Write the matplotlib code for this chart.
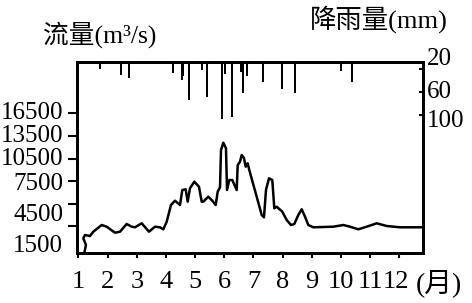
import matplotlib
matplotlib.use('Agg')
import matplotlib.pyplot as plt
from matplotlib.transforms import ScaledTranslation

plt.rcParams['font.family'] = ['Liberation Serif', 'Noto Sans CJK SC']

# 流量, month position / m3/s
flow_month = [1.199, 1.257, 1.165, 1.223, 1.394, 1.508, 1.796, 1.967, 2.252, 2.423,
              2.653, 2.824, 2.938, 3.167, 3.418, 3.623, 3.795, 3.908, 4.025, 4.172,
              4.309, 4.481, 4.560, 4.676, 4.745, 4.824, 4.971, 5.132, 5.225, 5.280,
              5.451, 5.588, 5.705, 5.774, 5.853, 5.887, 5.966, 6.058, 6.093, 6.171,
              6.274, 6.425, 6.460, 6.538, 6.597, 6.676, 6.734, 6.802, 6.857, 7.111,
              7.283, 7.361, 7.430, 7.533, 7.646, 7.715, 7.797, 7.989, 8.140, 8.287,
              8.401, 8.538, 8.654, 8.768, 8.881, 9.052, 9.738, 10.081, 10.311, 10.595,
              10.883, 11.226, 11.569, 12.025, 12.825]
flow_val = [-2100, -1033, -140, 300, 167, 740, 1633, 1407, 607, 740,
            1767, 1407, 1327, 1860, 740, 1407, 1327, 1060, 2073, 4300,
            4873, 4300, 6300, 6393, 4740, 6527, 7407, 6740, 4740, 4740,
            5407, 4873, 4300, 6073, 6660, 11633, 12607, 11860, 6300, 7633,
            7633, 6300, 9633, 10073, 10967, 10527, 9407, 9860, 8967, 5407,
            2967, 2660, 6300, 7860, 7633, 3860, 4073, 3407, 2300, 1633,
            1767, 2967, 3727, 2740, 1633, 1327, 1407, 1633, 1407, 1060,
            1407, 1860, 1500, 1327, 1327]

# 降雨量 bars
rain_month = [1.737, 2.468, 2.722, 4.251, 4.539, 4.594, 4.789, 5.235, 5.396, 5.921,
              6.034, 6.264, 6.562, 6.652, 6.768, 7.317, 7.989, 8.435, 10.002, 10.369]
rain_mm = [20, 30, 36, 27, 39, 33, 74, 22, 68, 107,
           29, 104, 25, 61, 32, 42, 54, 62, 23, 42]

months = list(range(1, 13))
month_labels = [str(m) for m in months]
flow_ticks = [1500, 4500, 7500, 10500, 13500, 16500]
rain_ticks = [20, 60, 100]

fig = plt.figure(figsize=(4.72, 3.03), dpi=100)
ax = fig.add_axes([0.1631, 0.165, 0.7331, 0.6304])
ax2 = ax.twinx()

ax.plot(flow_month, flow_val, color='black', lw=1.8, solid_joinstyle='round')
ax.set_xlim(0.9486, 12.814)
ax.set_ylim(-2100, 23367)
ax.set_xticks(months)
ax.set_xticklabels(month_labels, fontsize=19)
ax.set_yticks(flow_ticks)
ax.set_yticklabels([str(v) for v in flow_ticks], fontsize=18)
ax.tick_params(axis='x', direction='out', length=3.6, width=1.5, pad=9)
ax.tick_params(axis='y', direction='out', length=6.5, width=1.5, pad=3.5)

ax2.bar(rain_month, rain_mm, width=0.075, color='black')
ax2.set_ylim(340, 7.8)
ax2.set_yticks(rain_ticks)
ax2.set_yticklabels([str(v) for v in rain_ticks], fontsize=18)
ax2.tick_params(axis='y', direction='in', length=3, width=1.5, pad=3)

for a in (ax, ax2):
    for s in a.spines.values():
        s.set_linewidth(2)

# the printed labels sit a little off their ticks
left_shift = [-17, -9, 0, 2, 2.5, 3]
for lab, dy in zip(ax.get_yticklabels(), left_shift):
    lab.set_transform(lab.get_transform() + ScaledTranslation(0, dy / 100, fig.dpi_scale_trans))
right_shift = [13, 3, -3]
for lab, dy in zip(ax2.get_yticklabels(), right_shift):
    lab.set_transform(lab.get_transform() + ScaledTranslation(0, dy / 100, fig.dpi_scale_trans))
last = ax.get_xticklabels()[-1]
last.set_transform(last.get_transform() + ScaledTranslation(-3 / 100, 0, fig.dpi_scale_trans))

fig.text(43 / 472, 1 - 35 / 303, '流量(m³/s)', fontsize=18.5, ha='left', va='center')
fig.text(448 / 472, 1 - 19 / 303, '降雨量(mm)', fontsize=19, ha='right', va='center')
fig.text(439 / 472, 1 - 283 / 303, '(月)', fontsize=20, ha='center', va='center')

fig.savefig('out.png', dpi=100)
